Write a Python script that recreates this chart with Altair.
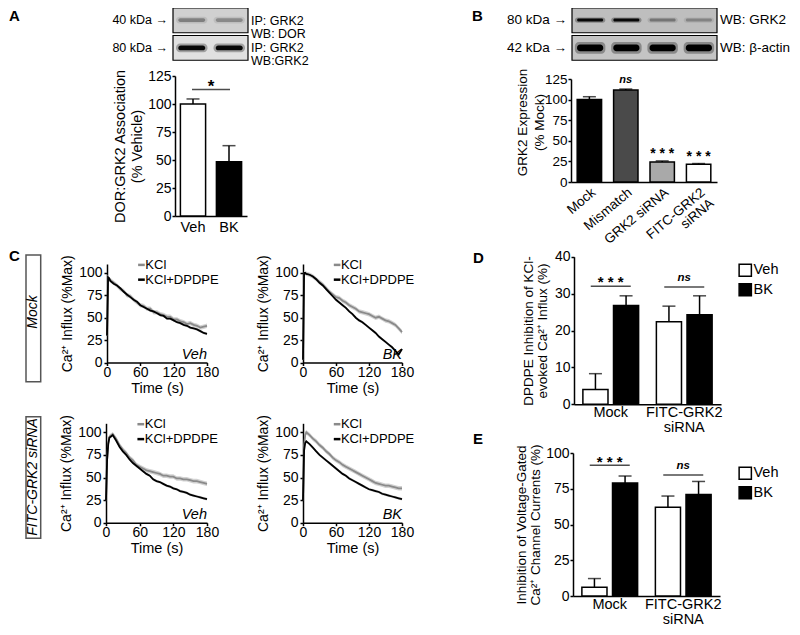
import altair as alt
import pandas as pd

W, H = 784, 619
FONT = "Liberation Sans"

# ---------------- data ----------------
A_groups = ["Veh", "BK"]
A_mean = [100.0, 48.5]
A_sem = [4.5, 14.3]
A_sig = "*"
A_sig_line = 113.0
A_sig_text = 115.6

A_blot_kda = ["40 kDa \u2192", "80 kDa \u2192"]
A_blot_probe = ["IP: GRK2\nWB: DOR", "IP: GRK2\nWB:GRK2"]
A_blot_band = [[0.32, 0.28], [0.95, 0.95]]

B_groups = ["Mock", "Mismatch", "GRK2 siRNA", "FITC-GRK2|siRNA"]
B_mean = [100.0, 111.6, 24.4, 21.5]
B_sem = [3.5, 1.2, 1.2, 0.9]
B_sig = ["", "ns", "***", "***"]
B_sig_y = [0.0, 124.3, 34.1, 30.1]

B_blot_kda = ["80 kDa \u2192", "42 kDa \u2192"]
B_blot_probe = ["WB: GRK2", "WB: \u03b2-actin"]
B_blot_band = [[0.95, 0.95, 0.32, 0.25], [1.0, 1.0, 1.0, 1.0]]

C_time = [0, 2, 4, 6, 12, 18, 24, 30, 36, 42, 48, 54, 60, 66, 72, 78, 84,
          90, 96, 102, 108, 114, 120, 126, 132, 138, 144, 150, 156, 162, 168, 174, 180]
C_series = ["KCl", "KCl+DPDPE"]
C_sem = [2.5, 1.5]
C_mock_veh_kcl = [30, 95, 93, 92, 89, 86, 82, 80, 75, 74, 70, 67, 64, 63, 60, 60, 56,
                  56, 54, 53, 51, 51, 48, 48, 46, 45, 43, 44, 42, 41, 39, 40, 41]
C_mock_veh_dp = [30, 95, 94, 91, 88, 86, 83, 79, 76, 73, 70, 68, 64, 62, 60, 58, 57,
                 55, 53, 52, 49, 49, 47, 45, 44, 42, 41, 39, 38, 37, 35, 33, 32]
C_mock_bk_kcl = [3, 100, 100, 99, 98, 96, 93, 90, 87, 83, 79, 76, 73, 72, 69, 67, 64,
                 62, 60, 57, 56, 55, 54, 52, 50, 51, 49, 47, 46, 44, 42, 38, 34]
C_mock_bk_dp = [3, 100, 100, 99, 98, 96, 93, 89, 86, 82, 78, 74, 70, 67, 64, 61, 57,
                54, 50, 47, 45, 42, 39, 36, 33, 29, 26, 23, 20, 17, 13, 9, 15]
C_fitc_veh_kcl = [25, 70, 88, 95, 98, 93, 86, 81, 77, 72, 69, 64, 62, 60, 58, 57, 56,
                  55, 54, 52, 52, 51, 51, 49, 49, 48, 48, 47, 46, 46, 45, 44, 43]
C_fitc_veh_dp = [25, 70, 87, 94, 97, 91, 84, 79, 75, 70, 66, 63, 60, 57, 54, 52, 48,
                 46, 45, 43, 41, 40, 38, 37, 35, 34, 33, 31, 30, 29, 28, 27, 26]
C_fitc_bk_kcl = [25, 85, 97, 100, 97, 93, 90, 86, 83, 79, 76, 72, 69, 67, 64, 62, 60,
                 58, 56, 54, 52, 50, 48, 46, 44, 43, 42, 41, 41, 40, 39, 38, 38]
C_fitc_bk_dp = [25, 80, 88, 90, 87, 83, 79, 75, 72, 69, 66, 63, 60, 57, 54, 52, 49,
                47, 45, 43, 41, 39, 37, 36, 35, 34, 32, 31, 30, 29, 28, 27, 26]

DE_groups = ["Mock", "FITC-GRK2|siRNA"]
DE_conds = ["Veh", "BK"]
D_veh = [4.0, 22.4]
D_veh_sem = [4.3, 4.2]
D_bk = [26.8, 24.3]
D_bk_sem = [2.6, 5.1]
D_sig = ["***", "ns"]
D_sig_line = [32.0, 31.8]
D_sig_text = [33.1, 34.1]

E_veh = [6.1, 62.0]
E_veh_sem = [6.1, 7.9]
E_bk = [79.0, 71.0]
E_bk_sem = [4.9, 9.1]
E_sig = ["***", "ns"]
E_sig_line = [91.4, 84.6]
E_sig_text = [94.0, 90.8]


# ---------------- helpers ----------------
def left_axis(x_px, title, values, fs, tfs, **kw):
    return alt.Axis(orient="left", offset=-x_px, values=values, title=title,
                    labelFontSize=fs, titleFontSize=tfs, **kw)


def bottom_axis(y_px, fs, **kw):
    return alt.Axis(orient="bottom", offset=y_px - H, labelFontSize=fs, **kw)


def star_text(t):
    return "* * *" if t == "***" else t


def blot(kda, probe, band, x0, x1, bg, geom, fs, lh, pc):
    nL = len(band[0])
    recs = []
    for r, row in enumerate(band):
        for l, inten in enumerate(row):
            recs.append({"row": r, "lane": l, "I": inten})
    dfb = pd.DataFrame(recs)
    dfr = pd.DataFrame({"row": list(range(len(kda))), "kda": kda, "probe": probe})
    xs = alt.Scale(domain=[0, nL], range=[x0, x1], nice=False, zero=False)
    ys = alt.Scale(domain=[0, 2], range=[0, 55], nice=False, zero=False)

    def X(f):
        return alt.X(f, scale=xs, axis=None)

    def Y(f):
        return alt.Y(f, scale=ys, axis=None)

    (c0, h0, c1, h1) = geom
    cexp = f"(datum.row == 0 ? {c0} : {c1})"
    hexp = f"(datum.row == 0 ? {h0} : {h1})"
    box = alt.Chart(dfr).transform_calculate(
        a="0", b=str(nL), ya="datum.row", yb="datum.row + 0.9"
    ).mark_rect(stroke="black", strokeWidth=1.2).encode(
        x=X("a:Q"), x2="b:Q", y=Y("ya:Q"), y2="yb:Q",
        fill=alt.Fill("row:N", scale=alt.Scale(domain=[0, 1], range=bg), legend=None),
    )
    halo = alt.Chart(dfb).transform_calculate(
        xa="datum.lane + 0.08", xb="datum.lane + 0.92",
        ya=f"datum.row + {cexp} - {hexp} * 1.8", yb=f"datum.row + {cexp} + {hexp} * 1.8",
        op="datum.I * 0.3",
    ).mark_rect(color="black", cornerRadius=4).encode(
        x=X("xa:Q"), x2="xb:Q", y=Y("ya:Q"), y2="yb:Q", opacity=alt.Opacity("op:Q", scale=None)
    )
    core = alt.Chart(dfb).transform_calculate(
        xa="datum.lane + 0.14", xb="datum.lane + 0.86",
        ya=f"datum.row + {cexp} - {hexp}", yb=f"datum.row + {cexp} + {hexp}",
    ).mark_rect(color="black", cornerRadius=3).encode(
        x=X("xa:Q"), x2="xb:Q", y=Y("ya:Q"), y2="yb:Q", opacity=alt.Opacity("I:Q", scale=None)
    )
    lab = alt.Chart(dfr).transform_calculate(a="0", yc="datum.row + 0.45").mark_text(
        align="right", baseline="middle", dx=-5, font=FONT, fontSize=fs, color="black"
    ).encode(x=X("a:Q"), y=Y("yc:Q"), text="kda:N")
    prb = alt.Chart(dfr).transform_calculate(b=str(nL), yc=f"datum.row + {pc}").mark_text(
        align="left", baseline="middle", dx=3, font=FONT, fontSize=fs, color="black",
        lineBreak="\n", lineHeight=lh,
    ).encode(x=X("b:Q"), y=Y("yc:Q"), text="probe:N")
    return alt.layer(box, halo, core, lab, prb)


# ---------------- panel A ----------------
dfA = pd.DataFrame({"g": A_groups, "m": A_mean, "s": A_sem})
dfA["top"] = dfA["m"] + dfA["s"]
sxA = alt.Scale(domain=A_groups, range=[167, 239], paddingInner=0.3, paddingOuter=0.15)
axA = bottom_axis(208, 14.5, title=None, ticks=False, labelPadding=4, labelAngle=0)
syA = alt.Scale(domain=[0, 125], range=[208, 68], nice=False, zero=True)
ayA = left_axis(167, ["DOR:GRK2 Association", "(% Vehicle)"], [0, 25, 50, 75, 100, 125],
                14, 14.5, titleLineHeight=17, labelPadding=1, titlePadding=3)


def XA(f):
    return alt.X(f, sort=A_groups, scale=sxA, axis=axA)


def YA(f):
    return alt.Y(f, scale=syA, axis=ayA)


baseA = alt.Chart(dfA).encode(x=XA("g:N"))
errA = baseA.mark_rule(color="black", strokeWidth=1.5).encode(y=YA("m:Q"), y2="top:Q")
capA = baseA.mark_tick(color="black", thickness=1.5, size=13, orient="horizontal").encode(
    y=YA("top:Q"))
barsA = baseA.mark_bar(stroke="black", strokeWidth=1.5).encode(
    y=YA("m:Q"),
    fill=alt.Fill("g:N", scale=alt.Scale(domain=A_groups, range=["white", "black"]), legend=None))
sigA = pd.DataFrame({"g": [A_groups[0]], "y": [A_sig_line], "ty": [A_sig_text], "t": [A_sig]})
lineA = alt.Chart(sigA).mark_tick(color="black", thickness=1.5, size=38, xOffset=18,
                                  orient="horizontal").encode(x=XA("g:N"), y=YA("y:Q"))
starA = alt.Chart(sigA).mark_text(dx=18, font=FONT, fontSize=17, fontWeight="bold",
                                  baseline="middle", color="black").encode(
    x=XA("g:N"), y=YA("ty:Q"), text="t:N")
panelA = alt.layer(barsA, errA, capA, lineA, starA)

blotA = blot(A_blot_kda, A_blot_probe, A_blot_band, 165, 240, ["#d0d0d0", "#e0e0e0"],
             (0.44, 0.07, 0.45, 0.09), 12.5, 13, 0.47)

# ---------------- panel B ----------------
dfB = pd.DataFrame({"g": B_groups, "m": B_mean, "s": B_sem, "sig": [star_text(t) for t in B_sig],
                    "sy": B_sig_y})
dfB["top"] = dfB["m"] + dfB["s"]
sxB = alt.Scale(domain=B_groups, range=[563, 709], paddingInner=0.33, paddingOuter=0.17)
axB = bottom_axis(174, 13.5, title=None, ticks=False, labelPadding=3, labelAngle=320,
                  labelAlign="right", labelBaseline="top", labelOverlap=False,
                  labelLineHeight=14, labelExpr="split(datum.label, '|')")
syB = alt.Scale(domain=[0, 125], range=[174, 71], nice=False, zero=True)
ayB = left_axis(563, ["GRK2 Expression", "(% Mock)"], [0, 25, 50, 75, 100, 125],
                13.5, 13.5, titleLineHeight=17, titleY=114, labelPadding=1, titlePadding=-2)


def XB(f):
    return alt.X(f, sort=B_groups, scale=sxB, axis=axB)


def YB(f):
    return alt.Y(f, scale=syB, axis=ayB)


baseB = alt.Chart(dfB).encode(x=XB("g:N"))
errB = baseB.mark_rule(color="black", strokeWidth=1.5).encode(y=YB("m:Q"), y2="top:Q")
capB = baseB.mark_tick(color="black", thickness=1.5, size=13, orient="horizontal").encode(
    y=YB("top:Q"))
barsB = baseB.mark_bar(stroke="black", strokeWidth=1.5).encode(
    y=YB("m:Q"), fill=alt.Fill("g:N", scale=alt.Scale(domain=B_groups,
                                                      range=["black", "#4a4a4a", "#a9a9a9", "white"]),
                               legend=None))
nsB = baseB.transform_filter("datum.sig == 'ns'").mark_text(
    font=FONT, fontSize=11, fontStyle="italic", fontWeight="bold", baseline="middle", color="black"
).encode(y=YB("sy:Q"), text="sig:N")
stB = baseB.transform_filter("datum.sig == '* * *'").mark_text(
    font=FONT, fontSize=14, fontWeight="bold", baseline="middle", color="black"
).encode(y=YB("sy:Q"), text="sig:N")
panelB = alt.layer(barsB, errB, capB, nsB, stB)

blotB = blot(B_blot_kda, B_blot_probe, B_blot_band, 564, 709, ["#bebebe", "#c4c4c4"],
             (0.44, 0.055, 0.45, 0.12), 13.5, 13.5, 0.45)


# ---------------- panel C ----------------
def c_panel(kcl, dp, x0, x1, y0, y1, cond):
    rows = []
    for name, vals, sem in [(C_series[0], kcl, C_sem[0]), (C_series[1], dp, C_sem[1])]:
        for t, v in zip(C_time, vals):
            rows.append({"t": t, "v": v, "s": sem, "series": name})
    df = pd.DataFrame(rows)
    sx = alt.Scale(domain=[0, 180], range=[x0, x1], nice=False, zero=False)
    ax = bottom_axis(y0, 14, values=[0, 60, 120, 180], title="Time (s)", tickSize=3,
                     labelFlush=False, labelPadding=0, titlePadding=2, titleFontSize=14.5)
    sy = alt.Scale(domain=[0, 110], range=[y0, y1], nice=False, zero=False)
    ay = left_axis(x0, "Ca\u00b2\u207a Influx (%Max)", [0, 25, 50, 75, 100], 14, 14,
                   tickSize=3, labelPadding=2, titlePadding=4)

    def X(f):
        return alt.X(f, scale=sx, axis=ax)

    def Y(f):
        return alt.Y(f, scale=sy, axis=ay)

    col = alt.Color("series:N", scale=alt.Scale(domain=C_series, range=["#8a8a8a", "black"]),
                    legend=None)
    band = alt.Chart(df).transform_calculate(lo="datum.v - datum.s", hi="datum.v + datum.s").mark_area(
        color="#d2d2d2").encode(x=X("t:Q"), y=Y("lo:Q"), y2="hi:Q", detail="series:N")
    lines = alt.Chart(df).mark_line(strokeWidth=1.8).encode(x=X("t:Q"), y=Y("v:Q"), color=col)
    leg = pd.DataFrame({"series": C_series, "r": [0, 1]})
    legrule = alt.Chart(leg).transform_calculate(
        xa="56", xb="68", yy="109 - datum.r * 16.5").mark_rule(strokeWidth=2.5).encode(
        x=X("xa:Q"), x2="xb:Q", y=Y("yy:Q"), color=col)
    legtext = alt.Chart(leg).transform_calculate(xa="69", yy="109 - datum.r * 16.5").mark_text(
        align="left", baseline="middle", font=FONT, fontSize=13, color="black").encode(
        x=X("xa:Q"), y=Y("yy:Q"), text="series:N")
    cdf = pd.DataFrame({"c": [cond]})
    condt = alt.Chart(cdf).transform_calculate(xa="180", yy="0").mark_text(
        align="right", baseline="bottom", dy=-1, font=FONT, fontSize=14.5, fontStyle="italic",
        color="black").encode(x=X("xa:Q"), y=Y("yy:Q"), text="c:N")
    return alt.layer(band, lines, legrule, legtext, condt)


c1 = c_panel(C_mock_veh_kcl, C_mock_veh_dp, 99, 199, 354.5, 256.0, "Veh")
c2 = c_panel(C_mock_bk_kcl, C_mock_bk_dp, 295, 394, 354.5, 256.0, "BK")
c3 = c_panel(C_fitc_veh_kcl, C_fitc_veh_dp, 98, 199, 514.7, 415.3, "Veh")
c4 = c_panel(C_fitc_bk_kcl, C_fitc_bk_dp, 295, 394, 514.7, 415.3, "BK")


# ---------------- panels D / E ----------------
def de_panel(veh, veh_sem, bk, bk_sem, sig, sig_line, sig_text, x0, x1, y0, y1, dom, vals,
             title, legy, tpad):
    rows = []
    for g, v, s in zip(DE_groups, veh, veh_sem):
        rows.append({"g": g, "c": DE_conds[0], "m": v, "s": s})
    for g, v, s in zip(DE_groups, bk, bk_sem):
        rows.append({"g": g, "c": DE_conds[1], "m": v, "s": s})
    df = pd.DataFrame(rows)
    df["top"] = df["m"] + df["s"]
    sx = alt.Scale(domain=DE_groups, range=[x0, x1], paddingInner=0, paddingOuter=0)
    ax = bottom_axis(y0, 14.5, title=None, ticks=False, labelPadding=1, labelAngle=0,
                     labelLineHeight=15, labelExpr="split(datum.label, '|')")
    sy = alt.Scale(domain=dom, range=[y0, y1], nice=False, zero=True)
    ay = left_axis(x0, title, vals, 14, 13.5, titleLineHeight=14, labelPadding=1,
                   titlePadding=tpad)

    def X(f):
        return alt.X(f, sort=DE_groups, scale=sx, axis=ax)

    def Y(f):
        return alt.Y(f, scale=sy, axis=ay)

    xo = alt.XOffset("c:N", sort=DE_conds,
                     scale=alt.Scale(domain=DE_conds, paddingInner=0.18, paddingOuter=0.29))
    base = alt.Chart(df).encode(x=X("g:N"), xOffset=xo)
    bars = base.mark_bar(stroke="black", strokeWidth=1.5).encode(
        y=Y("m:Q"), fill=alt.Fill("c:N", scale=alt.Scale(domain=DE_conds, range=["white", "black"]),
                                  legend=alt.Legend(orient="none", legendX=730, legendY=legy,
                                                    title=None, symbolType="square",
                                                    symbolSize=150, symbolStrokeColor="black",
                                                    symbolStrokeWidth=1.5, labelFont=FONT,
                                                    labelFontSize=14.5, labelColor="black",
                                                    rowPadding=0.5, labelOffset=1, padding=0,
                                                    offset=0)))
    err = base.mark_rule(color="black", strokeWidth=1.5).encode(y=Y("m:Q"), y2="top:Q")
    cap = base.mark_tick(color="black", thickness=1.5, size=13, orient="horizontal").encode(
        y=Y("top:Q"))
    sdf = pd.DataFrame({"g": DE_groups, "y": sig_line, "ty": sig_text,
                        "t": [star_text(t) for t in sig]})
    sline = alt.Chart(sdf).mark_tick(color="black", thickness=1.5, size=40,
                                     orient="horizontal").encode(x=X("g:N"), y=Y("y:Q"))
    st = alt.Chart(sdf).transform_filter("datum.t == '* * *'").mark_text(
        font=FONT, fontSize=15, fontWeight="bold", baseline="middle", color="black").encode(
        x=X("g:N"), y=Y("ty:Q"), text="t:N")
    ns = alt.Chart(sdf).transform_filter("datum.t == 'ns'").mark_text(
        font=FONT, fontSize=11.5, fontStyle="italic", fontWeight="bold", baseline="middle",
        color="black").encode(x=X("g:N"), y=Y("ty:Q"), text="t:N")
    return alt.layer(bars, err, cap, sline, st, ns)


panelD = de_panel(D_veh, D_veh_sem, D_bk, D_bk_sem, D_sig, D_sig_line, D_sig_text,
                  566, 713, 396.3, 248.7, [0, 40], [0, 10, 20, 30, 40],
                  ["DPDPE Inhibition of KCl-", "evoked Ca\u00b2\u207a Influx (%)"], 255, 5)
panelE = de_panel(E_veh, E_veh_sem, E_bk, E_bk_sem, E_sig, E_sig_line, E_sig_text,
                  565, 712, 588.0, 445.0, [0, 100], [0, 25, 50, 75, 100],
                  ["Inhibition of Voltage-Gated", "Ca\u00b2\u207a Channel Currents (%)"], 458, 3)

# ---------------- annotations ----------------
letters = pd.DataFrame({"t": ["A", "B", "C", "D", "E"],
                        "px": [1, 464, 1, 465, 465], "py": [1, 1, 241, 243, 424]})
letterL = alt.Chart(letters).mark_text(align="left", baseline="top", font=FONT, fontSize=15,
                                       fontWeight="bold", color="black").encode(
    x=alt.X("px:Q", scale=None, axis=None), y=alt.Y("py:Q", scale=None, axis=None), text="t:N")

sideboxes = pd.DataFrame({"t": ["Mock", "FITC-GRK2 siRNA"],
                          "x0": [18, 18], "x1": [32.7, 32.7],
                          "y0": [247, 408.7], "y1": [373.7, 530.3], "ty": [304, 469]})
boxL = alt.Chart(sideboxes).mark_rect(fill="white", stroke="#555555", strokeWidth=1.5).encode(
    x=alt.X("x0:Q", scale=None, axis=None), x2="x1:Q",
    y=alt.Y("y0:Q", scale=None, axis=None), y2="y1:Q")
boxT = alt.Chart(sideboxes).transform_calculate(xc="(datum.x0 + datum.x1) / 2").mark_text(
    angle=270, align="center", baseline="middle", font=FONT, fontSize=14, fontStyle="italic",
    color="black").encode(
    x=alt.X("xc:Q", scale=None, axis=None), y=alt.Y("ty:Q", scale=None, axis=None), text="t:N")

chart = alt.layer(
    letterL, boxL, boxT, blotA, panelA, blotB, panelB, c1, c2, c3, c4, panelD, panelE
).resolve_scale(
    x="independent", y="independent", color="independent", fill="independent",
    opacity="independent", xOffset="independent"
).resolve_axis(
    x="independent", y="independent"
).resolve_legend(
    fill="independent", color="independent"
).properties(
    width=W, height=H, padding=0, autosize=alt.AutoSizeParams(type="none")
).configure_view(
    stroke=None
).configure_axis(
    grid=False, labelFont=FONT, labelColor="black", titleFont=FONT,
    titleFontWeight="normal", titleColor="black", domainColor="black",
    domainWidth=1.5, tickColor="black", tickWidth=1.5, tickSize=3
)

chart.save("out.html", embed_options={"renderer": "svg", "actions": False})
